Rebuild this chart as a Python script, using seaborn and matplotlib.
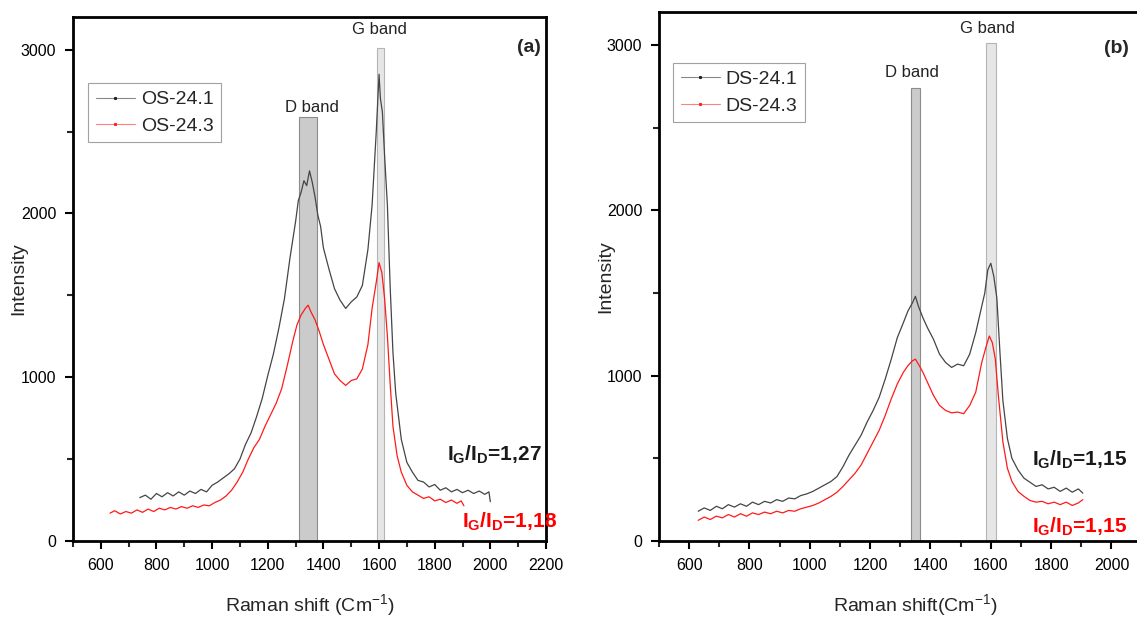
import numpy as np
import pandas as pd
import matplotlib
matplotlib.use("Agg")
import matplotlib.pyplot as plt
from matplotlib.lines import Line2D
from matplotlib.ticker import MultipleLocator
import seaborn as sns

# ---- data (Raman shift in cm-1, intensity a.u.) ----
os241_x = [740, 760, 780, 800, 820, 840, 860, 880, 900, 920, 940, 960, 980, 1000,
           1020, 1040, 1060, 1080, 1100, 1120, 1140, 1160, 1180, 1200, 1220, 1240,
           1260, 1280, 1300, 1310, 1320, 1330, 1340, 1350, 1360, 1370, 1380, 1390,
           1400, 1420, 1440, 1460, 1480, 1500, 1520, 1540, 1560, 1575, 1590, 1600,
           1605, 1612, 1620, 1630, 1640, 1650, 1660, 1680, 1700, 1720, 1740, 1760,
           1780, 1800, 1820, 1840, 1860, 1880, 1900, 1920, 1940, 1960, 1980, 1995, 2000]
os241_y = [265, 280, 255, 290, 270, 295, 275, 300, 280, 305, 290, 315, 300, 340,
           360, 385, 410, 440, 500, 590, 660, 760, 870, 1010, 1140, 1300,
           1480, 1730, 1950, 2080, 2130, 2200, 2170, 2260, 2190, 2100, 1990, 1920,
           1790, 1660, 1540, 1470, 1420, 1460, 1490, 1560, 1780, 2050, 2500, 2850,
           2700, 2620, 2350, 2050, 1550, 1150, 900, 620, 480, 420, 370, 360,
           330, 345, 310, 325, 300, 315, 295, 310, 290, 305, 285, 300, 240]

os243_x = [633, 650, 670, 690, 710, 730, 750, 770, 790, 810, 830, 850, 870, 890,
           910, 930, 950, 970, 990, 1010, 1030, 1050, 1070, 1090, 1110, 1130, 1150,
           1170, 1190, 1210, 1230, 1250, 1270, 1290, 1305, 1320, 1335, 1345, 1355,
           1370, 1385, 1400, 1420, 1440, 1460, 1480, 1500, 1520, 1540, 1560, 1575,
           1590, 1600, 1610, 1620, 1630, 1640, 1650, 1665, 1680, 1700, 1720, 1740,
           1760, 1780, 1800, 1820, 1840, 1860, 1880, 1895, 1905]
os243_y = [170, 185, 165, 180, 170, 190, 175, 195, 180, 200, 190, 205, 195, 210,
           200, 215, 205, 220, 215, 235, 250, 275, 310, 360, 420, 500, 570,
           620, 700, 770, 840, 930, 1070, 1220, 1320, 1380, 1420, 1440, 1400,
           1350, 1280, 1200, 1110, 1020, 980, 950, 980, 990, 1050, 1200, 1420,
           1580, 1700, 1640, 1480, 1250, 960, 700, 520, 420, 340, 300, 280,
           260, 270, 245, 255, 235, 250, 230, 245, 215]

ds241_x = [630, 650, 670, 690, 710, 730, 750, 770, 790, 810, 830, 850, 870, 890,
           910, 930, 950, 970, 990, 1010, 1030, 1050, 1070, 1090, 1110, 1130, 1150,
           1170, 1190, 1210, 1230, 1250, 1270, 1290, 1310, 1325, 1340, 1350, 1360,
           1375, 1390, 1410, 1430, 1450, 1470, 1490, 1510, 1530, 1550, 1565, 1580,
           1590, 1600, 1610, 1620, 1630, 1640, 1655, 1670, 1690, 1710, 1730, 1750,
           1770, 1790, 1810, 1830, 1850, 1870, 1890, 1905]
ds241_y = [180, 200, 185, 210, 195, 220, 205, 225, 210, 235, 220, 240, 230, 250,
           240, 260, 255, 275, 285, 300, 320, 340, 360, 390, 450, 520, 580,
           640, 720, 790, 870, 980, 1100, 1230, 1320, 1390, 1440, 1480, 1420,
           1350, 1290, 1220, 1130, 1080, 1050, 1070, 1060, 1130, 1260, 1380, 1500,
           1640, 1680, 1600, 1470, 1150, 850, 620, 500, 430, 380, 355, 330,
           340, 315, 325, 300, 320, 295, 315, 290]

ds243_x = [630, 650, 670, 690, 710, 730, 750, 770, 790, 810, 830, 850, 870, 890,
           910, 930, 950, 970, 990, 1010, 1030, 1050, 1070, 1090, 1110, 1130, 1150,
           1170, 1190, 1210, 1230, 1250, 1270, 1290, 1310, 1325, 1340, 1350, 1360,
           1375, 1390, 1410, 1430, 1450, 1470, 1490, 1510, 1530, 1550, 1570, 1585,
           1595, 1605, 1615, 1625, 1640, 1655, 1670, 1690, 1710, 1730, 1750, 1770,
           1790, 1810, 1830, 1850, 1870, 1890, 1905]
ds243_y = [125, 145, 130, 150, 140, 160, 145, 165, 150, 170, 160, 175, 165, 180,
           170, 185, 180, 195, 205, 215, 230, 250, 270, 295, 330, 370, 410,
           460, 530, 600, 670, 760, 860, 950, 1020, 1060, 1090, 1100, 1070,
           1020, 960, 880, 820, 790, 775, 780, 770, 820, 900, 1080, 1180,
           1240, 1200, 1100, 880, 600, 440, 360, 300, 270, 245, 235, 240,
           225, 235, 220, 235, 215, 230, 250]

# band markers: centre, width, height
bands_a_x = [1345, 1605]
bands_a_w = [62, 28]
bands_a_h = [2590, 3010]
bands_b_x = [1349, 1600]
bands_b_w = [30, 33]
bands_b_h = [2740, 3015]
band_labels = ["D band", "G band"]

ratios_a = ["1,27", "1,18"]
ratios_b = ["1,15", "1,15"]

# ---- style ----
sns.set_theme(style="ticks")
plt.rcParams["font.family"] = ["Liberation Sans", "DejaVu Sans"]
plt.rcParams["mathtext.fontset"] = "custom"
plt.rcParams["mathtext.rm"] = "Liberation Sans"
plt.rcParams["mathtext.bf"] = "Liberation Sans:bold"

fig = plt.figure(figsize=(11.37, 6.18), dpi=100)
ax_a = fig.add_axes([0.0642, 0.1246, 0.416, 0.848])
ax_b = fig.add_axes([0.5796, 0.1246, 0.451, 0.856])

black_c = "#454545"
red_c = "#ff1a1a"


def draw_panel(ax, xb, yb, xr, yr, names, bx, bw, bh, lab_pos, tag, tag_pos,
               ratios, ratio_pos, xlabel, leg_anchor, ylab_x, xlab_y):
    df_b = pd.DataFrame({"x": xb, "y": yb})
    df_r = pd.DataFrame({"x": xr, "y": yr})
    # grey band markers
    ax.bar(bx[0], bh[0], width=bw[0], color="#cbcbcb", edgecolor="#8c8c8c",
           linewidth=0.8, zorder=1)
    ax.bar(bx[1], bh[1], width=bw[1], color="#e6e6e6", edgecolor="#b5b5b5",
           linewidth=0.8, zorder=1)
    sns.lineplot(data=df_b, x="x", y="y", ax=ax, color=black_c, lw=0.9,
                 estimator=None, sort=False, zorder=3)
    sns.lineplot(data=df_r, x="x", y="y", ax=ax, color=red_c, lw=0.9,
                 estimator=None, sort=False, zorder=2)

    for lab, (lx, ly) in zip(band_labels, lab_pos):
        ax.text(lx, ly, lab, ha="center", va="center", fontsize=12, color="#222222")
    ax.text(tag_pos[0], tag_pos[1], tag, ha="center", va="center",
            fontsize=14, fontweight="bold")
    for r, c, (rx, ry) in zip(ratios, ["#1a1a1a", "#ff0000"], ratio_pos):
        ax.text(rx, ry, r"$\mathbf{I_G/I_D}$" + "=" + r, color=c, ha="left",
                va="center", fontsize=15, fontweight="bold", clip_on=False)

    handles = [Line2D([], [], color="#888888", lw=0.8, marker="s", markersize=1.2,
                      markerfacecolor="#222222", markeredgecolor="#222222"),
               Line2D([], [], color="#ff8080", lw=0.8, marker="s", markersize=1.2,
                      markerfacecolor="#ff2020", markeredgecolor="#ff2020")]
    leg = ax.legend(handles, names, loc="upper left", bbox_to_anchor=leg_anchor,
                    borderaxespad=0, fontsize=14, frameon=True, fancybox=False,
                    edgecolor="#8a8a8a", handlelength=2.0, handletextpad=0.3,
                    labelspacing=0.45, borderpad=0.4, numpoints=1)
    leg.get_frame().set_linewidth(0.8)

    ax.set_xlim(500, 2200)
    ax.set_ylim(0, 3200)
    ax.xaxis.set_major_locator(MultipleLocator(200))
    ax.xaxis.set_minor_locator(MultipleLocator(100))
    ax.yaxis.set_major_locator(MultipleLocator(1000))
    ax.yaxis.set_minor_locator(MultipleLocator(500))
    ax.tick_params(which="major", length=6, width=1.5, labelsize=11.5, pad=6,
                   colors="black")
    ax.tick_params(which="minor", length=4, width=1.5)
    ax.tick_params(top=False, right=False, which="both")
    for s in ax.spines.values():
        s.set_linewidth(2)
        s.set_color("black")
        s.set_visible(True)
    ax.set_xlabel(xlabel, fontsize=14)
    ax.set_ylabel("Intensity", fontsize=14)
    ax.yaxis.set_label_coords(ylab_x, 0.5)
    ax.xaxis.set_label_coords(0.5, xlab_y)
    ax.set_facecolor("white")


draw_panel(ax_a, os241_x, os241_y, os243_x, os243_y, ["OS-24.1", "OS-24.3"],
           bands_a_x, bands_a_w, bands_a_h,
           [(1360, 2650), (1601, 3125)], "(a)", (2137, 3015),
           ratios_a, [(1845, 523), (1899, 115)],
           r"Raman shift (Cm$^{-1}$)", (0.032, 0.874), -0.097, -0.098)
draw_panel(ax_b, ds241_x, ds241_y, ds243_x, ds243_y, ["DS-24.1", "DS-24.3"],
           bands_b_x, bands_b_w, bands_b_h,
           [(1338, 2834), (1589, 3100)], "(b)", (2017, 2979),
           ratios_b, [(1738, 489), (1738, 85)],
           r"Raman shift(Cm$^{-1}$)", (0.027, 0.904), -0.088, -0.098)

fig.savefig("out.png", dpi=100, facecolor="white")
